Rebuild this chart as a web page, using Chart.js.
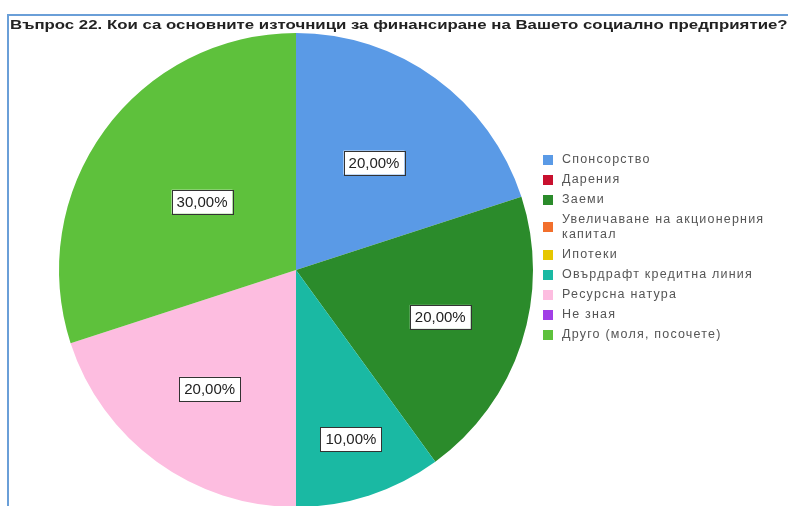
<!DOCTYPE html>
<html>
<head>
<meta charset="utf-8">
<script src="https://cdn.jsdelivr.net/npm/chart.js@4"></script>
<style>
  html, body { margin: 0; padding: 0; background: #fff; overflow: hidden; width: 788px; height: 506px; }
  #frame { position: absolute; left: 7px; top: 14px; width: 781px; height: 492px; border-left: 2px solid #6a9fd8; border-top: 2px solid #6a9fd8; }
  #title { position: absolute; left: 10px; top: 17px; font: bold 13px "Liberation Sans", Arial, sans-serif; color: #222; white-space: nowrap; transform-origin: 0 0; }
  #wrap { position: absolute; left: 0; top: 0; width: 788px; height: 520px; }
  #legend { position: absolute; left: 543px; top: 152px; width: 245px; font: 12.5px "Liberation Sans", Arial, sans-serif; letter-spacing: 1.2px; color: #555; }
  #legend .item { display: flex; align-items: center; margin-bottom: 5px; line-height: 15px; }
  #legend .box { width: 10px; height: 10px; flex: none; margin-right: 9px; }
</style>
</head>
<body>
<div id="frame"></div>
<div id="wrap"><canvas id="pie"></canvas></div>
<div id="title"></div>
<div id="legend"></div>
<script>
var title = "Въпрос 22. Кои са основните източници за финансиране на Вашето социално предприятие?";
var labels = ["Спонсорство", "Дарения", "Заеми", "Увеличаване на акционерния капитал", "Ипотеки",
  "Овърдрафт кредитна линия", "Ресурсна натура", "Не зная", "Друго (моля, посочете)"];
var values = [20, 0, 20, 0, 0, 10, 20, 0, 30];
var colors = ["#5a9ae6", "#c8102e", "#2b8b2b", "#f26f2c", "#e6c700", "#1ab9a3", "#fdbde0", "#a13fe6", "#5ec13c"];
var labelRadius = [0.56, 0, 0.64, 0, 0, 0.75, 0.62, 0, 0.49];

// title, stretched to the frame width like the original export
var t = document.getElementById('title');
t.textContent = title;
t.style.transform = 'scaleX(' + (777 / t.offsetWidth) + ')';

// legend
var leg = document.getElementById('legend');
labels.forEach(function(l, i) {
  var it = document.createElement('div');
  it.className = 'item';
  it.innerHTML = '<span class="box" style="background:' + colors[i] + '"></span><span class="txt">' +
    (i == 3 ? 'Увеличаване на акционерния<br>капитал' : l) + '</span>';
  leg.appendChild(it);
});

var pctLabels = {
  id: 'pctLabels',
  afterDatasetsDraw: function(chart) {
    var ctx = chart.ctx;
    var meta = chart.getDatasetMeta(0);
    ctx.save();
    ctx.font = '15px "Liberation Sans", Arial, sans-serif';
    ctx.textAlign = 'center';
    ctx.textBaseline = 'middle';
    meta.data.forEach(function(arc, i) {
      var v = values[i];
      if (!v) return;
      var p = arc.getProps(['x', 'y', 'startAngle', 'endAngle', 'outerRadius'], true);
      var a = (p.startAngle + p.endAngle) / 2;
      var r = p.outerRadius * labelRadius[i];
      var x = p.x + Math.cos(a) * r;
      var y = p.y + Math.sin(a) * r;
      var txt = v.toFixed(2).replace('.', ',') + '%';
      var w = ctx.measureText(txt).width + 10;
      ctx.fillStyle = '#fff';
      ctx.fillRect(x - w / 2, y - 12, w, 24);
      ctx.strokeStyle = '#333';
      ctx.lineWidth = 1;
      ctx.strokeRect(Math.round(x - w / 2) + 0.5, Math.round(y - 12) + 0.5, Math.round(w), 24);
      ctx.fillStyle = '#222';
      ctx.fillText(txt, x, y + 1);
    });
    ctx.restore();
  }
};

var ctx = document.getElementById('pie').getContext('2d');
var chart = new Chart(ctx, {
  type: 'pie',
  data: {
    labels: labels,
    datasets: [{
      data: values,
      backgroundColor: colors,
      borderWidth: 0
    }]
  },
  options: {
    responsive: true,
    maintainAspectRatio: false,
    animation: false,
    layout: { padding: { left: 59, right: 255, top: 33, bottom: 13 } },
    plugins: {
      legend: { display: false },
      tooltip: { enabled: false }
    }
  },
  plugins: [pctLabels]
});
</script>
</body>
</html>
